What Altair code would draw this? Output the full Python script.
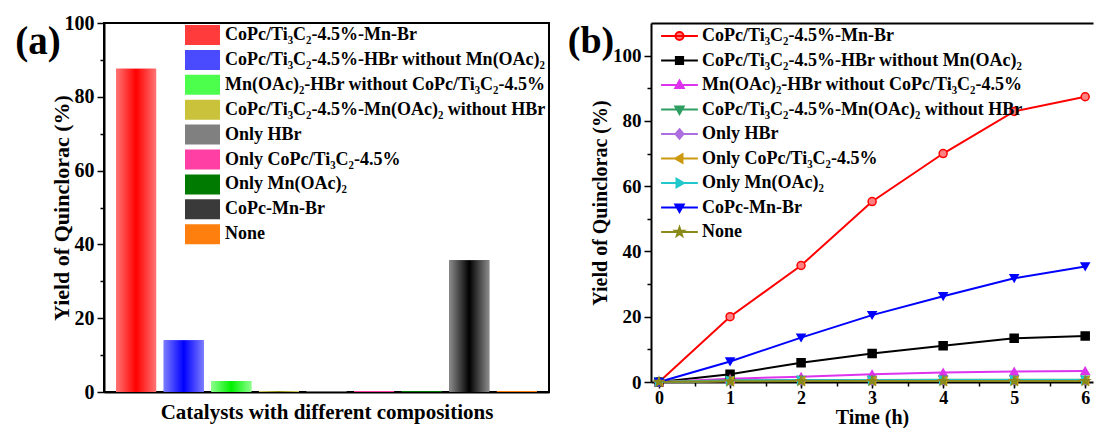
import altair as alt
import pandas as pd

FONT = "Liberation Serif"

# ---------------- data ----------------
catalysts = [
    "CoPc/Ti₃C₂-4.5%-Mn-Br",
    "CoPc/Ti₃C₂-4.5%-HBr without Mn(OAc)₂",
    "Mn(OAc)₂-HBr without CoPc/Ti₃C₂-4.5%",
    "CoPc/Ti₃C₂-4.5%-Mn(OAc)₂ without HBr",
    "Only HBr",
    "Only CoPc/Ti₃C₂-4.5%",
    "Only Mn(OAc)₂",
    "CoPc-Mn-Br",
    "None",
]
yields_a = [87.6, 14.0, 3.0, 0.2, 0.2, 0.3, 0.3, 35.7, 0.3]

hours = [0, 1, 2, 3, 4, 5, 6]
y_mn_br = [0.0, 20.0, 35.7, 55.3, 70.0, 82.9, 87.4]
y_hbr_no_mn = [0.0, 2.4, 5.9, 8.7, 11.1, 13.4, 14.1]
y_mn_hbr_no_co = [0.0, 1.0, 1.6, 2.4, 2.9, 3.2, 3.4]
y_co_mn_no_hbr = [0.0, 0.5, 0.6, 0.6, 0.7, 0.7, 0.7]
y_only_hbr = [0.0, 0.3, 0.4, 0.4, 0.5, 0.5, 0.5]
y_only_co = [0.0, 0.3, 0.3, 0.4, 0.4, 0.4, 0.4]
y_only_mn = [0.0, 0.4, 0.5, 0.5, 0.6, 0.6, 0.6]
y_copc_mn_br = [0.0, 6.3, 13.6, 20.5, 26.3, 31.8, 35.4]
y_none = [0.0, 0.2, 0.3, 0.3, 0.3, 0.3, 0.3]
series_b = [y_mn_br, y_hbr_no_mn, y_mn_hbr_no_co, y_co_mn_no_hbr, y_only_hbr,
            y_only_co, y_only_mn, y_copc_mn_br, y_none]

panel_labels = ["(a)", "(b)"]

# ---------------- styles ----------------
swatch_colors = ["#ff3b3b", "#4a4aff", "#4dff4d", "#c9c23a", "#808080",
                 "#ff3fa3", "#007a00", "#3a3a3a", "#ff7f0e"]
edge_colors = ["#ff7474", "#7c7cff", "#8cff8c", "#ebe679", "#808080",
               "#ff3fa3", "#007a00", "#8c8c8c", "#ff7f0e"]
center_colors = ["#ff0000", "#0000ff", "#00f000", "#877f00", "#808080",
                 "#ff3fa3", "#007a00", "#000000", "#ff7f0e"]

line_colors = ["#ff0000", "#000000", "#dd33ee", "#2e9e62", "#ad6fe0",
               "#cc9910", "#20c8cc", "#0000ff", "#8a8a1a"]
fill_colors = ["#ff8080", "#000000", "#dd33ee", "#2e9e62", "#ad6fe0",
               "#cc9910", "#20c8cc", "#0000ff", "#8a8a1a"]

STAR = ("M0,-1.15L0.27,-0.372L1.094,-0.355L0.437,0.142L0.676,0.93L0,0.46"
        "L-0.676,0.93L-0.437,0.142L-1.094,-0.355L-0.27,-0.372Z")
CIRCLE = "M1,0A1,1,0,1,1,-1,0A1,1,0,1,1,1,0Z"
SQUARE = "M-0.9,-0.9H0.9V0.9H-0.9Z"
TRI_UP = "M0,-1.1L1.05,0.75H-1.05Z"
TRI_DOWN = "M0,1.1L1.05,-0.75H-1.05Z"
DIAMOND = "M0,-1.2L1,0L0,1.2L-1,0Z"
TRI_LEFT = "M-1.1,0L0.75,-1.05V1.05Z"
TRI_RIGHT = "M1.1,0L-0.75,-1.05V1.05Z"
LINE = "M-4.6,0H4.6"

marker_shapes = ["circle", "square", "triangle-up", "triangle-down", "diamond",
                 "triangle-left", "triangle-right", "triangle-down", STAR]
legend_paths = [LINE + p for p in [CIRCLE, SQUARE, TRI_UP, TRI_DOWN, DIAMOND,
                                   TRI_LEFT, TRI_RIGHT, TRI_DOWN, STAR]]

df_a = pd.DataFrame({"catalyst": catalysts, "yield": yields_a})
rows = []
for name, vals in zip(catalysts, series_b):
    for t, v in zip(hours, vals):
        rows.append({"series": name, "t": t, "y": v})
df_b = pd.DataFrame(rows)

# ---------------- panel (a) ----------------
def xa(axis):
    return alt.X("catalyst:N", sort=catalysts,
                 scale=alt.Scale(domain=catalysts, paddingInner=0.16, paddingOuter=0.255),
                 axis=axis)

def ya(axis):
    return alt.Y("yield:Q", scale=alt.Scale(domain=[0, 100], nice=False), axis=axis)

legend_a = alt.Legend(
    title=None, orient="none", legendX=88.5, legendY=2, padding=0,
    rowPadding=4.9, labelOffset=12.5, labelFont=FONT, labelFontSize=18,
    labelFontWeight="bold", labelColor="black", labelLimit=500,
    symbolType="M-1.75,-1H1.75V1H-1.75Z", symbolSize=400, symbolStrokeWidth=0,
    symbolOpacity=1,
)

base_a = alt.Chart(df_a).mark_bar(opacity=1).encode(
    x=xa(alt.Axis(orient="bottom", labels=False, ticks=False,
                  title="Catalysts with different compositions", titlePadding=9,
                  titleFontSize=21)),
    y=ya(alt.Axis(orient="left", values=[0, 20, 40, 60, 80, 100], tickSize=7,
                  labelPadding=3, labelFontSize=20, title="Yield of Quinclorac (%)",
                  titlePadding=-9, titleFontSize=22)),
    color=alt.Color("catalyst:N", scale=alt.Scale(domain=catalysts, range=swatch_colors),
                    legend=legend_a),
)

overlays = []
for i, name in enumerate(catalysts):
    grad = alt.LinearGradient(
        gradient="linear", x1=0, x2=1, y1=0, y2=0,
        stops=[alt.GradientStop(color=edge_colors[i], offset=0),
               alt.GradientStop(color=center_colors[i], offset=0.5),
               alt.GradientStop(color=edge_colors[i], offset=1)],
    )
    overlays.append(
        alt.Chart(df_a).transform_filter(alt.datum.catalyst == name)
        .mark_bar(color=grad, opacity=1)
        .encode(x=xa(None), y=ya(None))
    )

minor_a = alt.Chart(df_a).mark_bar(opacity=0).encode(
    x=xa(None),
    y=ya(alt.Axis(orient="left", values=[10, 30, 50, 70, 90], tickSize=4,
                  labels=False, domain=False, title=None)),
)

label_a = alt.Chart(pd.DataFrame({"label": [panel_labels[0]]})).mark_text(
    font=FONT, fontSize=39, fontWeight="bold", align="center", baseline="middle",
    color="black",
).encode(text="label:N", x=alt.value(-66), y=alt.value(19))

panel_a = alt.layer(base_a, *overlays, minor_a, label_a).resolve_axis(
    x="independent", y="independent"
).properties(width=445, height=369,
             view=alt.ViewBackground(stroke="black", strokeWidth=2))

# ---------------- panel (b) ----------------
xs_b = alt.Scale(domain=[-0.113, 6.11], nice=False, zero=False)
ys_b = alt.Scale(domain=[0, 110], nice=False)

leg_b = alt.Legend(
    title=None, orient="none", legendX=19.5, legendY=4, padding=0,
    rowPadding=6.5, labelOffset=13.5, labelFont=FONT, labelFontSize=18,
    labelFontWeight="bold", labelColor="black", labelLimit=500,
    symbolSize=64, symbolStrokeWidth=2, symbolOpacity=1,
)

legend_layer = alt.Chart(df_b).transform_filter("datum.t < -5").mark_point(
    filled=True, opacity=1, size=64, strokeWidth=2
).encode(
    x=alt.X("t:Q", scale=xs_b,
            axis=alt.Axis(orient="top", labels=False, ticks=False, title=None)),
    y=alt.Y("y:Q", scale=ys_b, axis=None),
    color=alt.Color("series:N", scale=alt.Scale(domain=catalysts, range=fill_colors),
                    legend=leg_b),
    stroke=alt.Stroke("series:N", scale=alt.Scale(domain=catalysts, range=line_colors),
                      legend=leg_b),
    shape=alt.Shape("series:N", scale=alt.Scale(domain=catalysts, range=legend_paths),
                    legend=leg_b),
)

lines_b = alt.Chart(df_b).mark_line(strokeWidth=2).encode(
    x=alt.X("t:Q", scale=xs_b,
            axis=alt.Axis(orient="bottom", values=hours, format="d", tickSize=6,
                          labelPadding=1, labelFontSize=18, title="Time (h)",
                          titlePadding=0, titleFontSize=20)),
    y=alt.Y("y:Q", scale=ys_b,
            axis=alt.Axis(orient="left", values=[0, 20, 40, 60, 80, 100], tickSize=7,
                          labelPadding=3, labelFontSize=19,
                          title="Yield of Quinclorac (%)", titlePadding=2,
                          titleFontSize=20)),
    color=alt.Color("series:N", scale=alt.Scale(domain=catalysts, range=line_colors),
                    legend=None),
)

pts_b = alt.Chart(df_b).mark_point(filled=True, opacity=1, size=64, strokeWidth=1.5).encode(
    x=alt.X("t:Q", scale=xs_b,
            axis=alt.Axis(orient="bottom", values=[k / 2 for k in range(13)],
                          tickSize=4, labels=False, domain=False, title=None)),
    y=alt.Y("y:Q", scale=ys_b,
            axis=alt.Axis(orient="left", values=[10, 30, 50, 70, 90], tickSize=4,
                          labels=False, domain=False, title=None)),
    color=alt.Color("series:N", scale=alt.Scale(domain=catalysts, range=fill_colors),
                    legend=None),
    stroke=alt.Stroke("series:N", scale=alt.Scale(domain=catalysts, range=line_colors),
                      legend=None),
    shape=alt.Shape("series:N", scale=alt.Scale(domain=catalysts, range=marker_shapes),
                    legend=None),
)

label_b = alt.Chart(pd.DataFrame({"label": [panel_labels[1]]})).mark_text(
    font=FONT, fontSize=38, fontWeight="bold", align="center", baseline="middle",
    color="black",
).encode(text="label:N", x=alt.value(-60), y=alt.value(19))

panel_b = alt.layer(legend_layer, lines_b, pts_b, label_b).resolve_scale(
    color="independent", shape="independent", stroke="independent"
).resolve_axis(x="independent", y="independent").properties(
    width=442, height=359, view=alt.ViewBackground(stroke="transparent")
)

chart = alt.hconcat(panel_a, panel_b, spacing=102, bounds="flush").properties(
    padding={"left": 14, "top": 12, "right": 0, "bottom": 0},
    background="white",
).configure_axis(
    domainColor="black", domainWidth=2, tickColor="black", tickWidth=1.5,
    labelFont=FONT, labelFontSize=18, labelFontWeight="bold", labelColor="black",
    titleFont=FONT, titleFontSize=20, titleFontWeight="bold", titleColor="black",
    grid=False,
)

chart.save("out.html", embed_options={"renderer": "svg", "actions": False})
